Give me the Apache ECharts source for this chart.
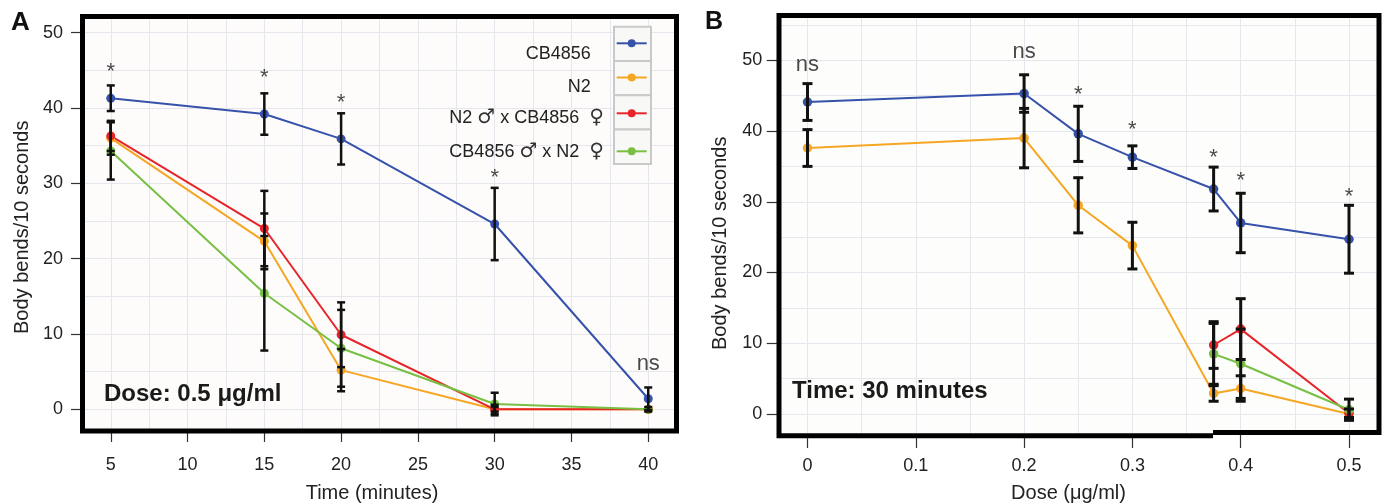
<!DOCTYPE html>
<html><head><meta charset="utf-8">
<script src="https://cdn.jsdelivr.net/npm/echarts@6/dist/echarts.min.js"></script>
<style>html,body{margin:0;padding:0;background:#fff}#c{width:1386px;height:504px}</style>
</head><body><div id="c"></div>
<script>
// ---------- data ----------
const seriesNames = ['CB4856', 'N2', 'N2 \u2642 x CB4856  \u2640', 'CB4856 \u2642 x N2  \u2640'];
const seriesColors = ['#3652aa', '#f5a623', '#e8242b', '#77c043'];

// Panel A: dose 0.5 ug/ml, time course
const timeA = [5, 15, 20, 30, 40];
const cbA = [41.3, 39.2, 35.9, 24.6, 1.4];
const cbAErr = [1.7, 2.75, 3.4, 4.8, 1.5];
const n2A = [36.0, 22.3, 5.2, 0, 0];
const n2AErr = [2.2, 3.7, 2.8, 0.3, 0];
const n2xcbA = [36.3, 24.0, 9.9, 0, 0];
const n2xcbAErr = [2.0, 5.0, 4.3, 0.6, 0.3];
const cbxn2A = [34.3, 15.4, 8.1, 0.7, 0];
const cbxn2AErr = [3.8, 7.6, 5.1, 1.5, 0];

// Panel B: time 30 minutes, dose response
const doseB = [0, 0.2, 0.25, 0.3, 0.375, 0.4, 0.5];
const cbB = [44.1, 45.3, 39.6, 36.3, 31.8, 27.0, 24.7];
const cbBErr = [2.6, 2.65, 3.9, 1.6, 3.1, 4.2, 4.8];
const n2B = [37.6, 39.0, 29.5, 23.8, 2.9, 3.6, 0];
const n2BErr = [2.6, 4.2, 3.9, 3.3, 1.1, 1.8, 0];
const doseCross = [0.375, 0.4, 0.5];
const n2xcbB = [9.75, 12.0, 0.1];
const n2xcbBErr = [3.3, 4.3, 0.6];
const cbxn2B = [8.5, 7.1, 0.6];
const cbxn2BErr = [4.3, 4.9, 1.5];

// significance annotations
const annotAX = [5, 15, 20, 30, 40];
const annotAY = [45.3, 44.5, 41.2, 31.3, 6.3];
const annotAText = ['*', '*', '*', '*', 'ns'];
const annotBX = [0, 0.2, 0.25, 0.3, 0.375, 0.4, 0.5];
const annotBY = [49.7, 51.5, 45.7, 40.7, 36.7, 33.5, 31.3];
const annotBText = ['ns', 'ns', '*', '*', '*', '*', '*'];

// ticks and gridlines
const xTicksA = [5, 10, 15, 20, 25, 30, 35, 40];
const yTicks = [0, 10, 20, 30, 40, 50];
const xTicksB = [0, 0.1, 0.2, 0.3, 0.4, 0.5];
const gridXA = [5, 7.5, 10, 12.5, 15, 17.5, 20, 22.5, 25, 27.5, 30, 32.5, 35, 37.5, 40];
const gridYA = [0, 5, 10, 15, 20, 25, 30, 35, 40, 45, 50];
const gridXB = [0, 0.05, 0.1, 0.15, 0.2, 0.25, 0.3, 0.35, 0.4, 0.45, 0.5];
const gridYB = [0, 5, 10, 15, 20, 25, 30, 35, 40, 45, 50, 55];

// ---------- layout constants for the legend ----------
const legendIconY = [44.3, 78.5, 112.7, 146.9];
const legendShift = [11, 9.4, 4.4, 0.6];
const legendPadR = [21, 21, 7.7, 7.7];

// ---------- helpers ----------
const FONT = "'Liberation Sans', Arial, sans-serif";
const SYMFONT = "'DejaVu Sans', sans-serif";
const zip = (xs, ys) => xs.map((x, i) => [x, ys[i]]);
const zip3 = (xs, ys, es) => xs.map((x, i) => [x, ys[i], es[i]]);

function errItem(capHalf, lw) {
  return function (params, api) {
    const x = api.value(0), y = api.value(1), e = api.value(2);
    if (!(e > 0)) return null;
    const hi = api.coord([x, y + e]), lo = api.coord([x, y - e]);
    const st = { stroke: '#111', lineWidth: lw };
    return {
      type: 'group', children: [
        { type: 'line', shape: { x1: hi[0], y1: hi[1], x2: lo[0], y2: lo[1] }, style: st },
        { type: 'line', shape: { x1: hi[0] - capHalf, y1: hi[1], x2: hi[0] + capHalf, y2: hi[1] }, style: st },
        { type: 'line', shape: { x1: lo[0] - capHalf, y1: lo[1], x2: lo[0] + capHalf, y2: lo[1] }, style: st }
      ]
    };
  };
}

function lineSeries(idx, xs, ys, axisIdx, size) {
  return {
    type: 'line', name: seriesNames[idx], xAxisIndex: axisIdx, yAxisIndex: axisIdx,
    data: zip(xs, ys), symbol: 'circle', symbolSize: size, z: 2,
    color: seriesColors[idx],
    lineStyle: { width: 2, color: seriesColors[idx] },
    itemStyle: { color: seriesColors[idx] },
    emphasis: { disabled: true }, animation: false
  };
}
function errSeries(xs, ys, es, axisIdx, cap, lw) {
  return {
    type: 'custom', xAxisIndex: axisIdx, yAxisIndex: axisIdx, z: 3, silent: true,
    data: zip3(xs, ys, es), encode: { x: 0, y: 1 },
    renderItem: errItem(cap, lw), animation: false
  };
}
function gridSeries(axisIdx, gx, gy) {
  return {
    type: 'line', xAxisIndex: axisIdx, yAxisIndex: axisIdx, data: [], silent: true,
    markLine: {
      silent: true, symbol: ['none', 'none'], label: { show: false }, z: 1, animation: false,
      lineStyle: { color: '#e6e7ec', width: 1, type: 'solid' },
      emphasis: { disabled: true },
      data: gx.map(v => ({ xAxis: v })).concat(gy.map(v => ({ yAxis: v })))
    }
  };
}
function annotSeries(xs, ys, ts, axisIdx) {
  return {
    type: 'scatter', xAxisIndex: axisIdx, yAxisIndex: axisIdx, z: 4, silent: true,
    symbolSize: 0.1, itemStyle: { color: 'transparent' },
    data: xs.map((x, i) => [x, ys[i], ts[i]]),
    label: {
      show: true, position: 'inside', color: '#1a1a1a', fontFamily: FONT,
      formatter: p => p.value[2] === 'ns' ? '{n|ns}' : '{s|*}',
      rich: {
        n: { fontSize: 22, fontFamily: FONT, color: '#1a1a1a', padding: [5, 0, 0, 0] },
        s: { fontSize: 22, fontFamily: FONT, color: '#1a1a1a', padding: [8, 0, 0, 0] }
      }
    },
    animation: false
  };
}

const axisLabelStyle = { fontSize: 18, color: '#222', fontFamily: FONT };
const tickStyle = { color: '#333', width: 1.2 };
const hiddenLine = { show: true, onZero: false, lineStyle: { color: '#000', width: 1 } };

const legends = seriesNames.map((n, i) => ({
  data: [n], orient: 'vertical', align: 'right',
  right: 738.3, top: legendIconY[i] - 5, padding: 0,
  itemWidth: 30, itemHeight: 10, selectedMode: false,
  formatter: name => name.replace(/([\u2642\u2640])/g, '{g|$1}'),
  textStyle: {
    fontSize: 18, color: '#222', fontFamily: FONT,
    padding: [2 * legendShift[i], legendPadR[i], 0, 0],
    rich: { g: { fontSize: 20, fontFamily: SYMFONT, color: '#333' } }
  }
}));

const option = {
  animation: false,
  backgroundColor: '#ffffff',
  textStyle: { fontFamily: FONT },
  grid: [
    { left: 82.5, right: 709.5, top: 16.5, bottom: 73, show: true, backgroundColor: '#fdfcfa', borderWidth: 0, outerBoundsMode: 'none', containLabel: false },
    { left: 779, right: 7, top: 15.5, bottom: 70, show: true, backgroundColor: '#fdfdfc', borderWidth: 0, outerBoundsMode: 'none', containLabel: false }
  ],
  xAxis: [
    {
      type: 'value', gridIndex: 0, min: 3.16, max: 41.84,
      axisLine: hiddenLine, splitLine: { show: false },
      axisTick: { show: true, customValues: xTicksA, length: 11, lineStyle: tickStyle },
      axisLabel: Object.assign({ customValues: xTicksA, margin: 25 }, axisLabelStyle),
      name: 'Time (minutes)', nameLocation: 'middle', nameGap: 52,
      nameTextStyle: { fontSize: 20, color: '#222', fontFamily: FONT, padding: [0, 15, 0, 0] }
    },
    {
      type: 'value', gridIndex: 1, min: -0.0263, max: 0.5277,
      axisLine: hiddenLine, splitLine: { show: false },
      axisTick: { show: true, customValues: xTicksB, length: 14, lineStyle: tickStyle },
      axisLabel: Object.assign({ customValues: xTicksB, margin: 23 }, axisLabelStyle),
      name: 'Dose (\u03bcg/ml)', nameLocation: 'middle', nameGap: 49,
      nameTextStyle: { fontSize: 20, color: '#222', fontFamily: FONT, padding: [0, 21, 0, 0] }
    }
  ],
  yAxis: [
    {
      type: 'value', gridIndex: 0, min: -2.88, max: 52.15,
      axisLine: hiddenLine, splitLine: { show: false },
      axisTick: { show: true, customValues: yTicks, length: 11.5, lineStyle: tickStyle },
      axisLabel: Object.assign({ customValues: yTicks, margin: 19.5 }, axisLabelStyle),
      name: 'Body bends/10 seconds', nameLocation: 'middle', nameGap: 50.5,
      nameTextStyle: { fontSize: 20, color: '#222', fontFamily: FONT, padding: [0, 7, 0, 0] }
    },
    {
      type: 'value', gridIndex: 1, min: -2.83, max: 56.33,
      axisLine: hiddenLine, splitLine: { show: false },
      axisTick: { show: true, customValues: yTicks, length: 12.3, lineStyle: tickStyle },
      axisLabel: Object.assign({ customValues: yTicks, margin: 16.8 }, axisLabelStyle),
      name: 'Body bends/10 seconds', nameLocation: 'middle', nameGap: 48.3,
      nameTextStyle: { fontSize: 20, color: '#222', fontFamily: FONT, padding: [0, 37, 0, 0] }
    }
  ],
  legend: legends,
  graphic: [
    // legend key cells
    { type: 'rect', z: 3, shape: { x: 614, y: 26.7, width: 37, height: 34.3 }, style: { fill: '#f8f8f7', stroke: '#c9c9c9', lineWidth: 2 } },
    { type: 'rect', z: 3, shape: { x: 614, y: 61.0, width: 37, height: 34.3 }, style: { fill: '#f8f8f7', stroke: '#c9c9c9', lineWidth: 2 } },
    { type: 'rect', z: 3, shape: { x: 614, y: 95.3, width: 37, height: 34.3 }, style: { fill: '#f8f8f7', stroke: '#c9c9c9', lineWidth: 2 } },
    { type: 'rect', z: 3, shape: { x: 614, y: 129.6, width: 37, height: 34.3 }, style: { fill: '#f8f8f7', stroke: '#c9c9c9', lineWidth: 2 } },
    // panel frames
    { type: 'rect', z: 10, silent: true, shape: { x: 82.5, y: 16.5, width: 594, height: 414.5 }, style: { fill: 'none', stroke: '#000', lineWidth: 5 } },
    { type: 'polyline', z: 10, silent: true, shape: { points: [[1213, 432.5], [1379, 432.5], [1379, 15.5], [779, 15.5], [779, 435.8], [1213, 435.8]] }, style: { fill: 'none', stroke: '#000', lineWidth: 5, lineJoin: 'miter' } },
    // panel letters and condition labels
    { type: 'text', z: 10, style: { x: 11, y: 22.5, text: 'A', font: "bold 26px 'Liberation Sans', Arial, sans-serif", fill: '#111', textVerticalAlign: 'middle' } },
    { type: 'text', z: 10, style: { x: 705, y: 22.5, text: 'B', font: "bold 25px 'Liberation Sans', Arial, sans-serif", fill: '#111', textVerticalAlign: 'middle' } },
    { type: 'text', z: 10, style: { x: 104, y: 394, text: 'Dose: 0.5 \u03bcg/ml', font: "bold 24px 'Liberation Sans', Arial, sans-serif", fill: '#1a1a1a', textVerticalAlign: 'middle' } },
    { type: 'text', z: 10, style: { x: 792, y: 391, text: 'Time: 30 minutes', font: "bold 24px 'Liberation Sans', Arial, sans-serif", fill: '#1a1a1a', textVerticalAlign: 'middle' } }
  ],
  series: [
    gridSeries(0, gridXA, gridYA),
    gridSeries(1, gridXB, gridYB),
    lineSeries(0, timeA, cbA, 0, 9),
    lineSeries(1, timeA, n2A, 0, 9),
    lineSeries(2, timeA, n2xcbA, 0, 9),
    lineSeries(3, timeA, cbxn2A, 0, 9),
    lineSeries(0, doseB, cbB, 1, 9.5),
    lineSeries(1, doseB, n2B, 1, 9.5),
    lineSeries(2, doseCross, n2xcbB, 1, 9.5),
    lineSeries(3, doseCross, cbxn2B, 1, 9.5),
    errSeries(timeA, cbA, cbAErr, 0, 4, 2.5),
    errSeries(timeA, n2A, n2AErr, 0, 4, 2.5),
    errSeries(timeA, n2xcbA, n2xcbAErr, 0, 4, 2.5),
    errSeries(timeA, cbxn2A, cbxn2AErr, 0, 4, 2.5),
    errSeries(doseB, cbB, cbBErr, 1, 5, 3),
    errSeries(doseB, n2B, n2BErr, 1, 5, 3),
    errSeries(doseCross, n2xcbB, n2xcbBErr, 1, 5, 3),
    errSeries(doseCross, cbxn2B, cbxn2BErr, 1, 5, 3),
    annotSeries(annotAX, annotAY, annotAText, 0),
    annotSeries(annotBX, annotBY, annotBText, 1)
  ]
};

const chart = echarts.init(document.getElementById('c'), null, { renderer: 'canvas' });
chart.setOption(option);
</script>
</body></html>
